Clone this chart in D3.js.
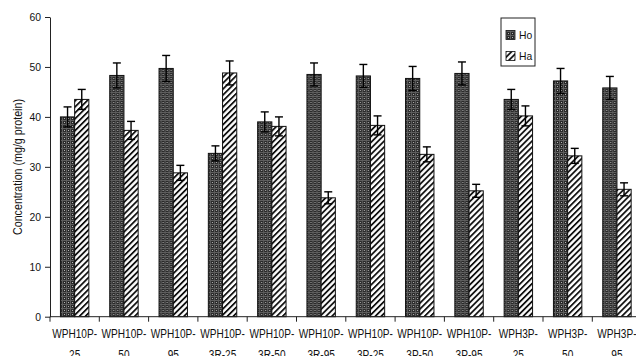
<!DOCTYPE html>
<html>
<head>
<meta charset="utf-8">
<script src="https://cdn.jsdelivr.net/npm/d3@7"></script>
<style>
  html, body { margin: 0; padding: 0; background: #fff; overflow: hidden; }
  text { font-family: "Liberation Sans", Arial, sans-serif; fill: #111; }
</style>
</head>
<body>
<svg id="chart" width="636" height="356"></svg>
<script>
// Sample groups (label wraps after the first hyphen)
const categories = [
  "WPH10P-25", "WPH10P-50", "WPH10P-95",
  "WPH10P-3R-25", "WPH10P-3R-50", "WPH10P-3R-95",
  "WPH10P-3P-25", "WPH10P-3P-50", "WPH10P-3P-95",
  "WPH3P-25", "WPH3P-50", "WPH3P-95"
];
const seriesNames = ["Ho", "Ha"];
const hoValues = [40.0, 48.3, 49.7, 32.7, 39.0, 48.5, 48.2, 47.7, 48.7, 43.5, 47.2, 45.8];
const haValues = [43.5, 37.3, 28.8, 48.8, 38.1, 23.8, 38.3, 32.5, 25.2, 40.2, 32.2, 25.5];
const hoErrors = [2.0, 2.5, 2.6, 1.5, 2.0, 2.3, 2.3, 2.4, 2.3, 2.0, 2.5, 2.3];
const haErrors = [2.0, 1.8, 1.5, 2.4, 1.9, 1.2, 1.9, 1.5, 1.3, 2.0, 1.5, 1.3];
const yTicks = [0, 10, 20, 30, 40, 50, 60];
const yTitle = "Concentration (mg/g protein)";

const svg = d3.select("#chart");

// Squeeze a text horizontally to imitate a narrow typeface
function narrow(sel, k) {
  sel.each(function () {
    const w = this.getComputedTextLength();
    if (w > 0) {
      d3.select(this).attr("textLength", (w * k).toFixed(2)).attr("lengthAdjust", "spacingAndGlyphs");
    }
  });
}

// Fill patterns: dark check for Ho, diagonal hatch for Ha
const defs = svg.append("defs");
const pHo = defs.append("pattern").attr("id", "pat-ho")
  .attr("patternUnits", "userSpaceOnUse").attr("width", 4).attr("height", 4);
pHo.append("rect").attr("width", 4).attr("height", 4).attr("fill", "#2a2a2a");
pHo.append("rect").attr("x", 0).attr("y", 0).attr("width", 4).attr("height", 1).attr("fill", "#5e5e5e");
pHo.append("rect").attr("x", 0).attr("y", 0).attr("width", 1).attr("height", 4).attr("fill", "#5e5e5e");
pHo.append("rect").attr("x", 2).attr("y", 2).attr("width", 1).attr("height", 1).attr("fill", "#b5b5b5");

const pHa = defs.append("pattern").attr("id", "pat-ha")
  .attr("patternUnits", "userSpaceOnUse").attr("width", 4.2).attr("height", 4.2)
  .attr("patternTransform", "rotate(45)");
pHa.append("rect").attr("width", 4.2).attr("height", 4.2).attr("fill", "#fff");
pHa.append("rect").attr("x", 0).attr("y", 0).attr("width", 1.8).attr("height", 4.2).attr("fill", "#111");

const fills = { Ho: "url(#pat-ho)", Ha: "url(#pat-ha)" };

// Scales
const x0 = 50, step = 49.3;
const x = d3.scaleBand().domain(categories).range([x0, x0 + step * categories.length]).padding(0);
const xs = d3.scaleBand().domain(seriesNames).range([0, x.bandwidth()]).paddingInner(0).paddingOuter(0.735);
const y = d3.scaleLinear().domain([0, 60]).range([316.7, 17]);

const rows = categories.map((c, i) => ({
  cat: c,
  items: [
    { s: "Ho", v: hoValues[i], e: hoErrors[i] },
    { s: "Ha", v: haValues[i], e: haErrors[i] }
  ]
}));

// Bars
const groups = svg.append("g").selectAll("g").data(rows).join("g")
  .attr("transform", d => `translate(${x(d.cat)},0)`);

groups.selectAll("rect").data(d => d.items).join("rect")
  .attr("x", d => xs(d.s))
  .attr("y", d => y(d.v))
  .attr("width", xs.bandwidth())
  .attr("height", d => y(0) - y(d.v))
  .attr("fill", d => fills[d.s])
  .attr("stroke", "#111")
  .attr("stroke-width", 1);

// Error bars with caps at both ends
const err = groups.selectAll("g.err").data(d => d.items).join("g").attr("class", "err")
  .attr("transform", d => `translate(${xs(d.s) + xs.bandwidth() / 2},0)`);
err.append("line").attr("x1", 0).attr("x2", 0)
  .attr("y1", d => y(d.v + d.e)).attr("y2", d => y(d.v - d.e))
  .attr("stroke", "#000").attr("stroke-width", 1.4);
err.append("line").attr("x1", -4).attr("x2", 4)
  .attr("y1", d => y(d.v + d.e)).attr("y2", d => y(d.v + d.e))
  .attr("stroke", "#000").attr("stroke-width", 1.4);
err.append("line").attr("x1", -4).attr("x2", 4)
  .attr("y1", d => y(d.v - d.e)).attr("y2", d => y(d.v - d.e))
  .attr("stroke", "#000").attr("stroke-width", 1.4);

// Y axis
const yAxis = d3.axisLeft(y).tickValues(yTicks).tickFormat(d3.format("d"))
  .tickSize(5).tickSizeOuter(0).tickPadding(4);
const gy = svg.append("g").attr("transform", `translate(${x0},0)`).call(yAxis);
gy.select(".domain").attr("stroke", "#222").attr("stroke-width", 1);
gy.selectAll(".tick line").attr("stroke", "#222");
gy.selectAll(".tick text").attr("font-size", 11.5).attr("font-family", null).attr("fill", "#111");
narrow(gy.selectAll(".tick text"), 0.9);

// X axis: baseline, separators between groups, two-line labels
const xEnd = x.range()[1];
svg.append("line").attr("x1", x0).attr("x2", xEnd)
  .attr("y1", y(0)).attr("y2", y(0)).attr("stroke", "#222").attr("stroke-width", 1);
const bounds = categories.map(c => x(c)).concat([xEnd]);
svg.append("g").selectAll("line").data(bounds).join("line")
  .attr("x1", d => d).attr("x2", d => d)
  .attr("y1", y(0)).attr("y2", y(0) + 5)
  .attr("stroke", "#222");

const labelLines = [
  { y: 338.3, part: d => d.slice(0, d.indexOf("-") + 1) },
  { y: 358.5, part: d => d.slice(d.indexOf("-") + 1) }
];
const gx = svg.append("g");
labelLines.forEach(L => {
  const t = gx.append("g").selectAll("text").data(categories).join("text")
    .attr("text-anchor", "middle")
    .attr("font-size", 12)
    .attr("x", d => x(d) + x.bandwidth() / 2)
    .attr("y", L.y)
    .text(L.part);
  narrow(t, 0.84);
});

// Y title
const title = svg.append("text")
  .attr("transform", "translate(22,167) rotate(-90)")
  .attr("text-anchor", "middle")
  .attr("font-size", 12)
  .text(yTitle);
narrow(title, 0.89);

// Legend
const lg = svg.append("g").attr("transform", "translate(501,18)");
lg.append("rect").attr("width", 34).attr("height", 48)
  .attr("fill", "#fff").attr("stroke", "#222").attr("stroke-width", 1);
const li = lg.selectAll("g").data(seriesNames).join("g")
  .attr("transform", (d, i) => `translate(5,${17 + i * 21})`);
li.append("rect").attr("x", 0).attr("y", -4.5).attr("width", 9).attr("height", 9)
  .attr("fill", d => fills[d]).attr("stroke", "#111").attr("stroke-width", 0.8);
const lt = li.append("text").attr("x", 13).attr("y", 4).attr("font-size", 11.5).text(d => d);
narrow(lt, 0.9);
</script>
</body>
</html>
